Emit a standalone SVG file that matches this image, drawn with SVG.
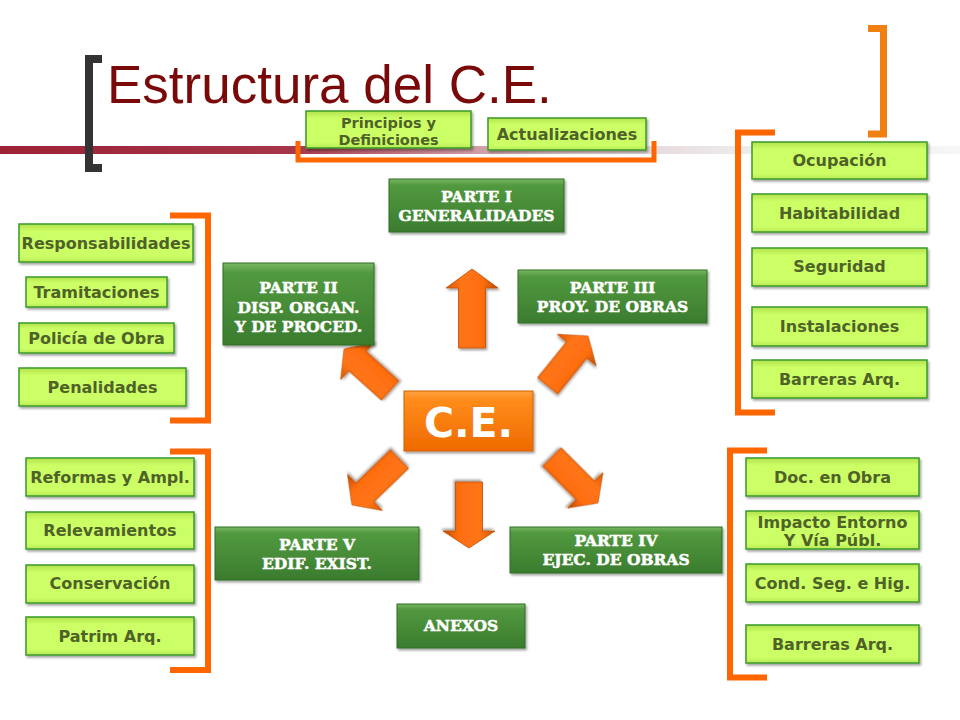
<svg xmlns="http://www.w3.org/2000/svg" width="960" height="720" viewBox="0 0 960 720">
<defs>
<style>
.lb{fill:url(#lg);stroke:#3A9A2A;stroke-width:1.5;filter:url(#sh)}
.lt{font-family:"DejaVu Sans","Verdana",sans-serif;font-weight:bold;font-size:16px;fill:#4F6228;text-anchor:middle}
.gb{fill:url(#gg);stroke:#2F6E25;stroke-width:1;filter:url(#sh)}
.gt{font-family:"DejaVu Serif","Liberation Serif",serif;font-weight:bold;font-size:15.5px;fill:#FFFFFF;stroke:#FFFFFF;stroke-width:0.5;text-anchor:middle}
.br{fill:none;stroke:#FF6600;stroke-width:6}
.ar{fill:url(#ag);stroke:#C04E00;stroke-width:0.8;filter:url(#sh)}
</style>
<linearGradient id="lg" x1="0" y1="0" x2="0" y2="1">
<stop offset="0" stop-color="#B2E24E"/>
<stop offset="0.2" stop-color="#CCFF66"/>
<stop offset="0.85" stop-color="#CCFF66"/>
<stop offset="1" stop-color="#B8E955"/>
</linearGradient>
<linearGradient id="gg" x1="0" y1="0" x2="0" y2="1">
<stop offset="0" stop-color="#78B862"/>
<stop offset="0.12" stop-color="#52993F"/>
<stop offset="1" stop-color="#3A7C2E"/>
</linearGradient>
<linearGradient id="og" x1="0" y1="0" x2="0" y2="1">
<stop offset="0" stop-color="#FFA040"/>
<stop offset="0.15" stop-color="#FF8C1A"/>
<stop offset="1" stop-color="#EE6A00"/>
</linearGradient>
<linearGradient id="ag" x1="0" y1="0" x2="1" y2="0">
<stop offset="0" stop-color="#D95800"/>
<stop offset="0.3" stop-color="#FF7518"/>
<stop offset="0.7" stop-color="#FF6E10"/>
<stop offset="1" stop-color="#B84A00"/>
</linearGradient>
<linearGradient id="rl" x1="0" y1="0" x2="1" y2="0">
<stop offset="0" stop-color="#9B2335"/>
<stop offset="0.3" stop-color="#A53548"/>
<stop offset="0.58" stop-color="#E2C8CD"/>
<stop offset="0.78" stop-color="#EDEDED"/>
<stop offset="1" stop-color="#F6F6F6"/>
</linearGradient>
<filter id="sh" x="-10%" y="-10%" width="125%" height="130%">
<feDropShadow dx="1.5" dy="2" stdDeviation="1.2" flood-color="#000" flood-opacity="0.35"/>
</filter>
</defs>
<rect width="960" height="720" fill="#FFFFFF"/>

<g id="background">
<rect x="0" y="146" width="960" height="8" fill="url(#rl)"/>
<path d="M102,59 H89 V168 H102" fill="none" stroke="#333333" stroke-width="8"/>
<text x="107" y="103" font-family="Liberation Sans, Arial, sans-serif" font-size="53" fill="#7A0A0A">Estructura del C.E.</text>
</g>

<g id="brackets">
<path class="br" d="M298,141 V160 H654 V141" style="stroke-width:5"/>
<path class="br" d="M868,28.5 H883.5 V134 H868" style="stroke:#F08010;stroke-width:7"/>
<path class="br" d="M775,132.5 H738 V412.5 H775"/>
<path class="br" d="M767,450.5 H730 V677.5 H767"/>
<path class="br" d="M170,215.5 H208 V420.5 H170"/>
<path class="br" d="M170,451.5 H208 V670 H170"/>
</g>

<g id="connectors">
<polygon class="ar" transform="translate(472,269)" points="0,0 26,19 13.5,19 13.5,79 -13.5,79 -13.5,19 -26,19"/>
<polygon class="ar" transform="translate(588,336) rotate(39)" points="0,0 25,18 13,18 13,64 -13,64 -13,18 -25,18"/>
<polygon class="ar" transform="translate(344,349) rotate(-48)" points="0,0 25,18 13,18 13,62 -13,62 -13,18 -25,18"/>
<polygon class="ar" transform="translate(352,505) rotate(-134)" points="0,0 25,18 13,18 13,66 -13,66 -13,18 -25,18"/>
<polygon class="ar" transform="translate(469,548) rotate(180)" points="0,0 26,17 13.5,17 13.5,66 -13.5,66 -13.5,17 -26,17"/>
<polygon class="ar" transform="translate(598,503) rotate(135)" points="0,0 25,18 13,18 13,65 -13,65 -13,18 -25,18"/>
</g>

<g id="ce">
<rect x="404" y="391" width="129" height="60" fill="url(#og)" stroke="#D06000" stroke-width="1" filter="url(#sh)"/>
<text x="468.5" y="437" font-family="DejaVu Sans, Verdana, sans-serif" font-weight="bold" font-size="41" fill="#FFFFFF" text-anchor="middle">C.E.</text>
</g>

<g id="parte1"><rect class="gb" x="389" y="179" width="175" height="53"/><text class="gt" x="476.5" y="202">PARTE I</text><text class="gt" x="476.5" y="221">GENERALIDADES</text></g>
<g id="parte2"><rect class="gb" x="223" y="263" width="151" height="82"/><text class="gt" x="298.5" y="293">PARTE II</text><text class="gt" x="298.5" y="313">DISP. ORGAN.</text><text class="gt" x="298.5" y="332">Y DE PROCED.</text></g>
<g id="parte3"><rect class="gb" x="518" y="270" width="189" height="53"/><text class="gt" x="612.5" y="293">PARTE III</text><text class="gt" x="612.5" y="312">PROY. DE OBRAS</text></g>
<g id="parte5"><rect class="gb" x="215" y="527" width="204" height="53"/><text class="gt" x="317" y="550">PARTE V</text><text class="gt" x="317" y="569">EDIF. EXIST.</text></g>
<g id="parte4"><rect class="gb" x="510" y="527" width="212" height="46"/><text class="gt" x="616" y="546">PARTE IV</text><text class="gt" x="616" y="565">EJEC. DE OBRAS</text></g>
<g id="anexos"><rect class="gb" x="397" y="604" width="128" height="44"/><text class="gt" x="461" y="631">ANEXOS</text></g>

<g id="principios"><rect class="lb" x="306" y="111" width="165" height="37"/><text class="lt" x="388.5" y="128" style="font-size:14.5px">Principios y</text><text class="lt" x="388.5" y="145" style="font-size:14.5px">Definiciones</text></g>
<g id="actualizaciones"><rect class="lb" x="488" y="118" width="158" height="32"/><text class="lt" x="567" y="139.5">Actualizaciones</text></g>

<g id="ocupacion"><rect class="lb" x="752" y="142" width="175" height="37"/><text class="lt" x="839.5" y="166">Ocupación</text></g>
<g id="habitabilidad"><rect class="lb" x="752" y="194" width="175" height="38"/><text class="lt" x="839.5" y="218.5">Habitabilidad</text></g>
<g id="seguridad"><rect class="lb" x="752" y="248" width="175" height="38"/><text class="lt" x="839.5" y="272">Seguridad</text></g>
<g id="instalaciones"><rect class="lb" x="752" y="307" width="175" height="39"/><text class="lt" x="839.5" y="332">Instalaciones</text></g>
<g id="barreras1"><rect class="lb" x="752" y="360" width="175" height="38"/><text class="lt" x="839.5" y="385">Barreras Arq.</text></g>

<g id="doc"><rect class="lb" x="746" y="458" width="173" height="38"/><text class="lt" x="832.5" y="483">Doc. en Obra</text></g>
<g id="impacto"><rect class="lb" x="746" y="511" width="173" height="38"/><text class="lt" x="832.5" y="528">Impacto Entorno</text><text class="lt" x="832.5" y="546">Y Vía Públ.</text></g>
<g id="cond"><rect class="lb" x="746" y="564" width="173" height="38"/><text class="lt" x="832.5" y="589">Cond. Seg. e Hig.</text></g>
<g id="barreras2"><rect class="lb" x="746" y="625" width="173" height="38"/><text class="lt" x="832.5" y="650">Barreras Arq.</text></g>

<g id="responsabilidades"><rect class="lb" x="19" y="224" width="174" height="38"/><text class="lt" x="106" y="248.5">Responsabilidades</text></g>
<g id="tramitaciones"><rect class="lb" x="26" y="277" width="141" height="30"/><text class="lt" x="96.5" y="297.5">Tramitaciones</text></g>
<g id="policia"><rect class="lb" x="19" y="323" width="155" height="30"/><text class="lt" x="96.5" y="343.5">Policía de Obra</text></g>
<g id="penalidades"><rect class="lb" x="19" y="368" width="167" height="38"/><text class="lt" x="102.5" y="392.5">Penalidades</text></g>

<g id="reformas"><rect class="lb" x="26" y="458" width="168" height="38"/><text class="lt" x="110" y="483">Reformas y Ampl.</text></g>
<g id="relevamientos"><rect class="lb" x="26" y="512" width="168" height="37"/><text class="lt" x="110" y="536">Relevamientos</text></g>
<g id="conservacion"><rect class="lb" x="26" y="565" width="168" height="38"/><text class="lt" x="110" y="589">Conservación</text></g>
<g id="patrim"><rect class="lb" x="26" y="617" width="168" height="38"/><text class="lt" x="110" y="641.5">Patrim Arq.</text></g>
</svg>
